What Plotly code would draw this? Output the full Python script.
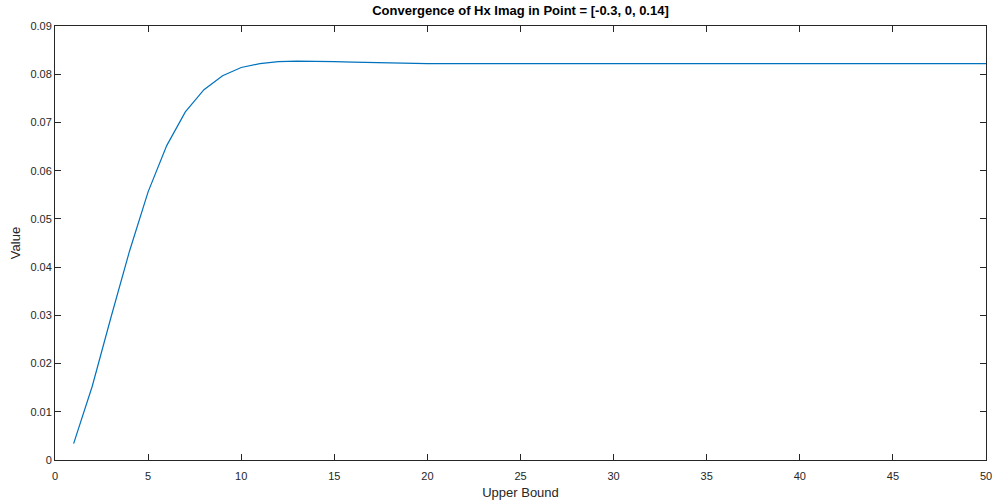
import plotly.graph_objects as go

# Upper bound of the summation and the converged Hx imaginary value
upper_bound = list(range(1, 51))
hx_imag = [
    0.0034, 0.0153, 0.0295, 0.0433, 0.0556, 0.0652, 0.0722, 0.0768, 0.0797, 0.0814,
    0.0822, 0.0826, 0.0827, 0.0827, 0.0826, 0.0825, 0.0824, 0.0823, 0.0823, 0.0822,
    0.0822, 0.0822, 0.0822, 0.0822, 0.0822, 0.0822, 0.0822, 0.0822, 0.0822, 0.0822,
    0.0822, 0.0822, 0.0822, 0.0822, 0.0822, 0.0822, 0.0822, 0.0822, 0.0822, 0.0822,
    0.0822, 0.0822, 0.0822, 0.0822, 0.0822, 0.0822, 0.0822, 0.0822, 0.0822, 0.0822,
]

x_ticks = [0, 5, 10, 15, 20, 25, 30, 35, 40, 45, 50]
y_ticks = [0, 0.01, 0.02, 0.03, 0.04, 0.05, 0.06, 0.07, 0.08, 0.09]
y_tick_text = ["0", "0.01", "0.02", "0.03", "0.04", "0.05", "0.06", "0.07", "0.08", "0.09"]

FONT = "Liberation Sans, Arial, sans-serif"

fig = go.Figure(
    go.Scatter(
        x=upper_bound,
        y=hx_imag,
        mode="lines",
        line=dict(color="#0072BD", width=1.2),
        hoverinfo="x+y",
    )
)

axis_common = dict(
    showline=True,
    linecolor="#262626",
    linewidth=1,
    mirror="allticks",
    ticks="inside",
    ticklen=6,
    tickcolor="#262626",
    tickwidth=1,
    showgrid=False,
    zeroline=False,
    automargin=False,
    tickfont=dict(family=FONT, size=11, color="#262626"),
)

fig.update_layout(
    width=997,
    height=504,
    margin=dict(l=55, r=11, t=26, b=44),
    paper_bgcolor="white",
    plot_bgcolor="white",
    showlegend=False,
    title=dict(
        text="<b>Convergence of Hx Imag in Point = [-0.3, 0, 0.14]</b>",
        x=0.5,
        xref="paper",
        y=1 - 10 / 504,
        yanchor="middle",
        font=dict(family=FONT, size=13, color="#000000"),
    ),
    xaxis=dict(
        **axis_common,
        range=[0, 50],
        tickvals=x_ticks,
        ticklabelstandoff=6,
        title=dict(
            text="Upper Bound",
            standoff=6,
            font=dict(family=FONT, size=13, color="#262626"),
        ),
    ),
    yaxis=dict(
        **axis_common,
        range=[0, 0.09],
        tickvals=y_ticks,
        ticktext=y_tick_text,
        title=dict(
            text="Value",
            standoff=6,
            font=dict(family=FONT, size=13, color="#262626"),
        ),
    ),
)

fig.write_html("out.html")
